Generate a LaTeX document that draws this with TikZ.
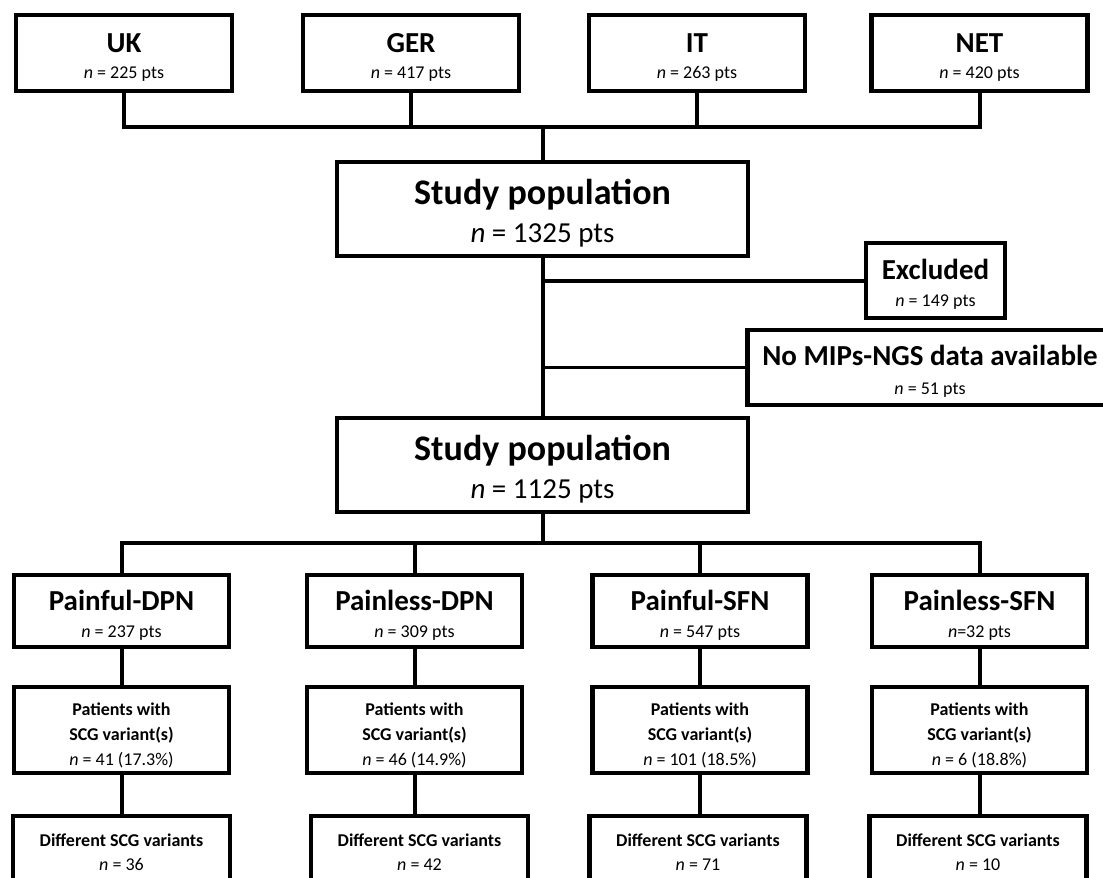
\documentclass[tikz,border=0pt]{standalone}
\usepackage{fontspec}
\setmainfont{Carlito}

\begin{document}
\begin{tikzpicture}[x=1pt, y=-1pt, line width=4pt,
  box/.style={draw, line width=4.5pt, align=center, inner sep=0pt, font=\fontsize{18}{26}\selectfont},
  site/.style={box, minimum width=216pt, minimum height=76pt},
  popbox/.style={box, minimum width=411pt, minimum height=94pt, font=\fontsize{29}{38}\selectfont},
  groupbox/.style={box, minimum width=215pt, minimum height=72pt, font=\fontsize{18}{27}\selectfont},
  carrier/.style={box, minimum width=215pt, minimum height=86pt, font=\fontsize{18}{25}\selectfont},
  variants/.style={box, minimum width=217pt, minimum height=72pt, font=\fontsize{18}{24}\selectfont}]
  \newcommand{\Nval}[1]{\textit{n} = #1}
  \newcommand{\Hd}[1]{{\fontsize{29}{26}\selectfont\bfseries\rule{0pt}{28pt}#1}}
  \useasboundingbox (0,0) rectangle (1103,878);

  % countries
  \node[site] (uk)  at (124,53)   {\Hd{UK}\\\Nval{225 pts}};
  \node[site] (ger) at (411,53)   {\Hd{GER}\\\Nval{417 pts}};
  \node[site] (it)  at (697,53)   {\Hd{IT}\\\Nval{263 pts}};
  \node[site] (net) at (979.5,53) {\Hd{NET}\\\Nval{420 pts}};
  \coordinate (jtop) at (542.5,127);
  \draw (uk.south) |- (jtop) -| (net.south);
  \draw (ger.south) |- (jtop);
  \draw (it.south) |- (jtop);

  % study population
  \node[popbox] (pop1) at (542.5,209) {{\fontsize{36}{38}\selectfont\bfseries\rule{0pt}{33pt}Study population}\\\Nval{1325 pts}};
  \node[popbox] (pop2) at (542.5,465) {{\fontsize{36}{38}\selectfont\bfseries\rule{0pt}{33pt}Study population}\\\Nval{1125 pts}};
  \draw (jtop) -- (pop1.north);
  \draw (pop1.south) -- (pop2.north);

  % drop-outs
  \node[box, minimum width=139pt, minimum height=75pt, font=\fontsize{18}{27}\selectfont] (excl) at (935.5,280.5) {\Hd{Excluded}\\\Nval{149 pts}};
  \node[box, minimum width=365pt, minimum height=75pt, font=\fontsize{18}{29}\selectfont] (nomips) at (930,367.5) {\Hd{No MIPs-NGS data available}\\\Nval{51 pts}};
  \coordinate (jexcl) at (542.5,280.5);
  \coordinate (jmips) at (542.5,367.5);
  \draw (jexcl) -- (excl.west);
  \draw[line width=3pt] (jmips) -- (nomips.west);

  % phenotype groups
  \node[groupbox] (pdpn) at (121.5,611) {\Hd{Painful-DPN}\\\Nval{237 pts}};
  \node[groupbox] (ldpn) at (414.5,611) {\Hd{Painless-DPN}\\\Nval{309 pts}};
  \node[groupbox] (psfn) at (700,611)   {\Hd{Painful-SFN}\\\Nval{547 pts}};
  \node[groupbox] (lsfn) at (979.5,611) {\Hd{Painless-SFN}\\\textit{n}=32 pts};
  \coordinate (jbot) at (542.5,543);
  \draw (pop2.south) -- (jbot);
  \draw (pdpn.north) |- (jbot) -| (lsfn.north);
  \draw (ldpn.north) |- (jbot);
  \draw (psfn.north) |- (jbot);

  % carriers
  \node[carrier] (cpdpn) at (121.5,730) {\rule{0pt}{23pt}\textbf{Patients with}\\\textbf{SCG variant(s)}\\\Nval{41 (17.3\%)}};
  \node[carrier] (cldpn) at (414.5,730) {\rule{0pt}{23pt}\textbf{Patients with}\\\textbf{SCG variant(s)}\\\Nval{46 (14.9\%)}};
  \node[carrier] (cpsfn) at (700,730)   {\rule{0pt}{23pt}\textbf{Patients with}\\\textbf{SCG variant(s)}\\\Nval{101 (18.5\%)}};
  \node[carrier] (clsfn) at (979.5,730) {\rule{0pt}{23pt}\textbf{Patients with}\\\textbf{SCG variant(s)}\\\Nval{6 (18.8\%)}};
  \draw (pdpn) -- (cpdpn);
  \draw (ldpn) -- (cldpn);
  \draw (psfn) -- (cpsfn);
  \draw (lsfn) -- (clsfn);

  % distinct variants
  \node[variants] (vpdpn) at (121.5,852) {\textbf{Different SCG variants}\\\Nval{36}};
  \node[variants] (vldpn) at (419.5,852) {\textbf{Different SCG variants}\\\Nval{42}};
  \node[variants] (vpsfn) at (698,852)   {\textbf{Different SCG variants}\\\Nval{71}};
  \node[variants] (vlsfn) at (978,852)   {\textbf{Different SCG variants}\\\Nval{10}};
  \draw (cpdpn.south) -- (cpdpn.south |- vpdpn.north);
  \draw (cldpn.south) -- (cldpn.south |- vldpn.north);
  \draw (cpsfn.south) -- (cpsfn.south |- vpsfn.north);
  \draw (clsfn.south) -- (clsfn.south |- vlsfn.north);

\end{tikzpicture}
\end{document}
